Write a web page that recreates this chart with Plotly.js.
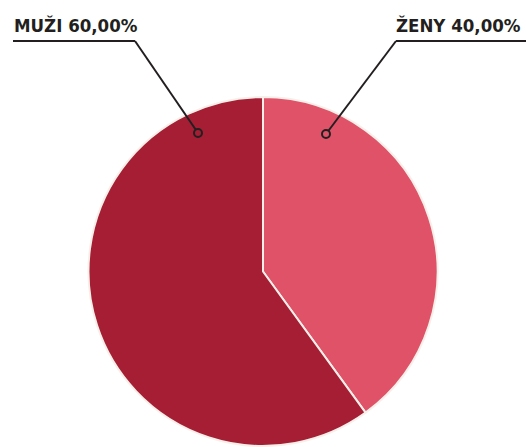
<!DOCTYPE html>
<html>
<head>
<meta charset="utf-8">
<script src="https://cdn.plot.ly/plotly-3.0.1.min.js"></script>
<style>html,body{margin:0;padding:0;background:#fff;}#chart{width:526px;height:447px;}</style>
</head>
<body>
<div id="chart"></div>
<script>
const labels = ["ŽENY", "MUŽI"];
const values = [40, 60];
const colors = ["#E05267", "#A51E34"];

const W = 526, H = 447;
const px = x => x / W;
const py = y => 1 - y / H;

// label layout
const labelPos = {
  "ŽENY": {tx: 523, anchor: "right", ux0: 396, ux1: 526, cx: 396, dx: 326, dy: 134},
  "MUŽI": {tx: 12, anchor: "left", ux0: 13, ux1: 135, cx: 135, dx: 198, dy: 133}
};
const underlineY = 41;

const total = values.reduce((a, b) => a + b, 0);
const fmt = v => (v / total * 100).toFixed(2).replace(".", ",") + "%";

const annotations = [];
const shapes = [];
labels.forEach((lab, i) => {
  const p = labelPos[lab];
  annotations.push({
    xref: "paper", yref: "paper",
    x: px(p.tx), y: py(underlineY - 3),
    xanchor: p.anchor, yanchor: "bottom",
    text: lab + " " + fmt(values[i]),
    showarrow: false,
    font: {family: "DejaVu Sans Condensed, DejaVu Sans", size: 18.5, color: "#231f20", weight: "bold"}
  });
  shapes.push({type: "line", xref: "paper", yref: "paper",
    x0: px(p.ux0), x1: px(p.ux1), y0: py(underlineY), y1: py(underlineY),
    line: {color: "#231f20", width: 2}});
  shapes.push({type: "line", xref: "paper", yref: "paper",
    x0: px(p.cx), x1: px(p.dx), y0: py(underlineY), y1: py(p.dy),
    line: {color: "#231f20", width: 2}});
  shapes.push({type: "circle", xref: "paper", yref: "paper",
    x0: px(p.dx - 4), x1: px(p.dx + 4), y0: py(p.dy + 4), y1: py(p.dy - 4),
    fillcolor: colors[i], line: {color: "#231f20", width: 2}});
});

const data = [{
  type: "pie",
  labels: labels,
  values: values,
  sort: false,
  direction: "clockwise",
  rotation: 0,
  textinfo: "none",
  hoverinfo: "label+percent",
  marker: {colors: colors, line: {color: "#f7f0ea", width: 2}},
  domain: {x: [px(88), px(438)], y: [py(446), py(97)]}
}];

const layout = {
  width: W, height: H,
  margin: {l: 0, r: 0, t: 0, b: 0},
  paper_bgcolor: "#ffffff",
  showlegend: false,
  annotations: annotations,
  shapes: shapes
};

Plotly.newPlot("chart", data, layout, {displayModeBar: false, staticPlot: true});
</script>
</body>
</html>
